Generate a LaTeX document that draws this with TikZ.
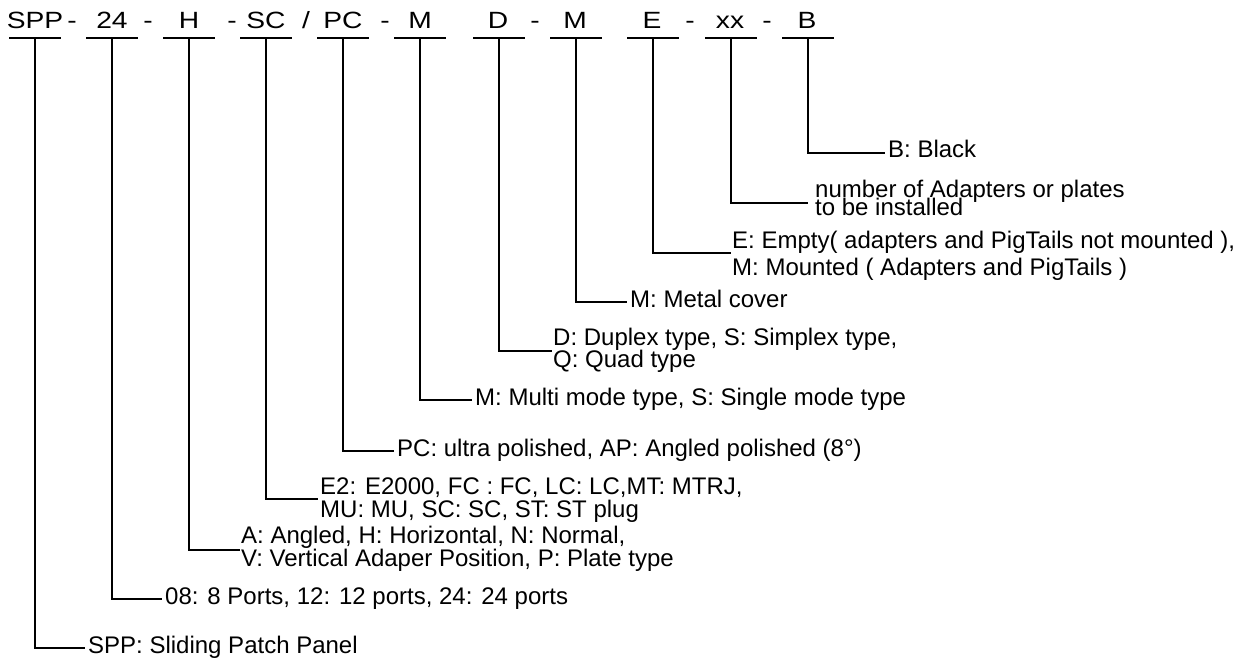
\documentclass[tikz,border=0pt]{standalone}
\usepackage{fontspec}
\setmainfont{Liberation Sans}
\newcommand{\tightlines}{\lineskiplimit=-100pt\relax\lineskip=0pt\relax}
\begin{document}
\begin{tikzpicture}[x=1pt,y=-1pt,
  code/.style={anchor=base,inner sep=0pt,font=\fontsize{23.5}{28}\selectfont},
  lab/.style={anchor=base west,inner sep=0pt,align=left,font={\fontsize{24}{#1}\selectfont\tightlines}},
  lab/.default=23,
  conn/.style={line width=1.5pt},
  uline/.style={line width=1.8pt}]
\useasboundingbox (0,0) rectangle (1249,660);
% top row codes
\foreach \n/\x/\t in {c1/35/SPP,c2/112/24,c3/189/H,c4/266/SC,c5/343/PC,c6/420/M,c7/498/D,c8/575/M,c9/652/E,c10/730/xx,c11/807/B}{
  \node[code] (\n) at (\x,29) {\scalebox{1.2}[1]{\t}};
}
\foreach \n/\x/\t in {s1/72/-,s2/148/-,s3/232/-,s4/306/{/},s5/385/-,s6/535/-,s7/690/-,s8/767/-}{
  \node[code] (\n) at (\x,29) {\scalebox{1.2}[1]{\t}};
}
% underline centres
\foreach \n/\x in {u1/35,u2/112,u3/189,u4/266,u5/343,u6/420,u7/499,u8/576,u9/653,u10/731,u11/808}{
  \coordinate (\n) at (\x,38);
  \draw[uline] ([xshift=-26pt]\n) -- ([xshift=26pt]\n);
}
% line ends
\coordinate (k1) at (85,648);
\coordinate (k2) at (162,599);
\coordinate (k3) at (240,550);
\coordinate (k4) at (318,499);
\coordinate (k5) at (394,451);
\coordinate (k6) at (472,400);
\coordinate (k7) at (552,351);
\coordinate (k8) at (627,302);
\coordinate (k9) at (731,253);
\coordinate (k10) at (808,203);
\coordinate (k11) at (885,153);
% labels
\node[lab] (l1) at (88,653) {SPP: Sliding Patch Panel};
\node[lab] (l2) at (165,604) {08: 8 Ports, 12: 12 ports, 24: 24 ports};
\node[lab] (l3) at (241,566) {A: Angled, H: Horizontal, N: Normal,\\V: Vertical Adaper Position, P: Plate type};
\node[lab] (l4) at (320,517) {E2: E2000, FC : FC, LC: LC,MT: MTRJ,\\MU: MU, SC: SC, ST: ST plug};
\node[lab] (l5) at (397,456) {PC: ultra polished, AP: Angled polished (8°)};
\node[lab] (l6) at (475,405) {M: Multi mode type, S: Single mode type};
\node[lab=22] (l7) at (553,367) {D: Duplex type, S: Simplex type,\\Q: Quad type};
\node[lab] (l8) at (630,307) {M: Metal cover};
\node[lab=28] (l9) at (732,276) {E: Empty( adapters and PigTails not mounted ),\\M: Mounted ( Adapters and PigTails )};
\node[lab=18] (l10) at (815,216) {number of Adapters or plates\\to be installed};
\node[lab] (l11) at (888,158) {B: Black};
% connectors
\foreach \i in {1,...,11}{
  \draw[conn] (u\i) |- (k\i);
}
\end{tikzpicture}
\end{document}
